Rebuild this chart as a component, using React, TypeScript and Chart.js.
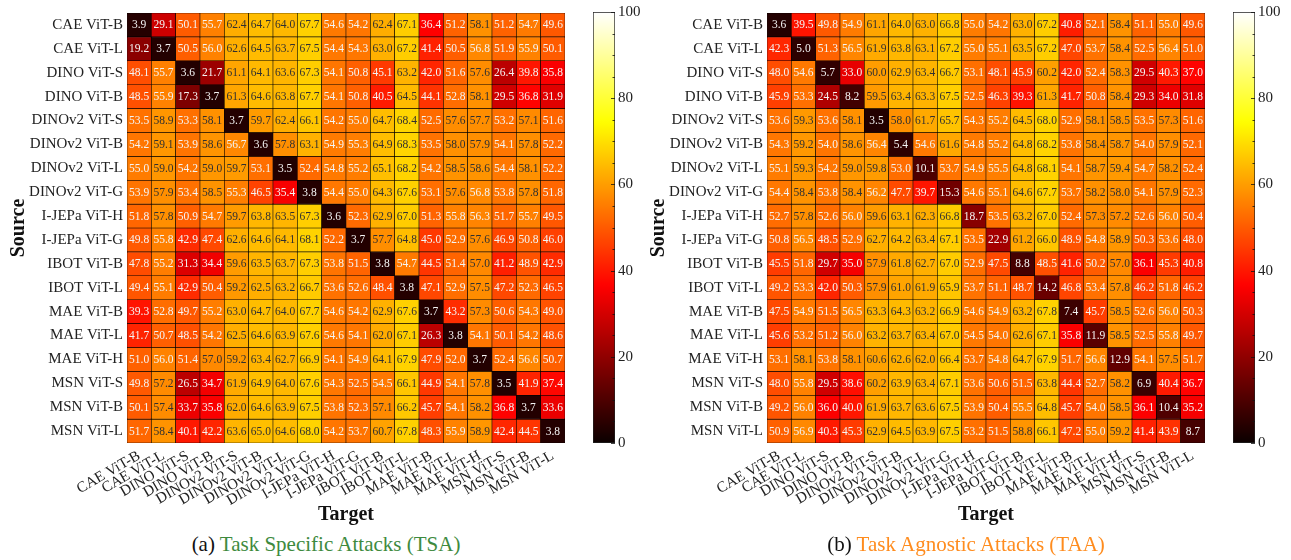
import React, { useEffect, useRef } from "react";
import { Chart, registerables } from "chart.js";

Chart.register(...registerables);

const sources = [
  "CAE ViT-B", "CAE ViT-L", "DINO ViT-S", "DINO ViT-B", "DINOv2 ViT-S", "DINOv2 ViT-B",
  "DINOv2 ViT-L", "DINOv2 ViT-G", "I-JEPa ViT-H", "I-JEPa ViT-G", "IBOT ViT-B", "IBOT ViT-L",
  "MAE ViT-B", "MAE ViT-L", "MAE ViT-H", "MSN ViT-S", "MSN ViT-B", "MSN ViT-L",
];
const targets = [...sources];

const tsaValues = [
  [3.9, 29.1, 50.1, 55.7, 62.4, 64.7, 64.0, 67.7, 54.6, 54.2, 62.4, 67.1, 36.4, 51.2, 58.1, 51.2, 54.7, 49.6],
  [19.2, 3.7, 50.5, 56.0, 62.6, 64.5, 63.7, 67.5, 54.4, 54.3, 63.0, 67.2, 41.4, 50.5, 56.8, 51.9, 55.9, 50.1],
  [48.1, 55.7, 3.6, 21.7, 61.1, 64.1, 63.6, 67.3, 54.1, 50.8, 45.1, 63.2, 42.0, 51.6, 57.6, 26.4, 39.8, 35.8],
  [48.5, 55.9, 17.3, 3.7, 61.3, 64.6, 63.8, 67.7, 54.1, 50.8, 40.5, 64.5, 44.1, 52.8, 58.1, 29.5, 36.8, 31.9],
  [53.5, 58.9, 53.3, 58.1, 3.7, 59.7, 62.4, 66.1, 54.2, 55.0, 64.7, 68.4, 52.5, 57.6, 57.7, 53.2, 57.1, 51.6],
  [54.2, 59.1, 53.9, 58.6, 56.7, 3.6, 57.8, 63.1, 54.9, 55.3, 64.9, 68.3, 53.5, 58.0, 57.9, 54.1, 57.8, 52.2],
  [55.0, 59.0, 54.2, 59.0, 59.7, 53.1, 3.5, 52.4, 54.8, 55.2, 65.1, 68.2, 54.2, 58.5, 58.6, 54.4, 58.1, 52.2],
  [53.9, 57.9, 53.4, 58.5, 55.3, 46.5, 35.4, 3.8, 54.4, 55.0, 64.3, 67.6, 53.1, 57.6, 56.8, 53.8, 57.8, 51.8],
  [51.8, 57.8, 50.9, 54.7, 59.7, 63.8, 63.5, 67.3, 3.6, 52.3, 62.9, 67.0, 51.3, 55.8, 56.3, 51.7, 55.7, 49.5],
  [49.8, 55.8, 42.9, 47.4, 62.6, 64.6, 64.1, 68.1, 52.2, 3.7, 57.7, 64.8, 45.0, 52.9, 57.6, 46.9, 50.8, 46.0],
  [47.8, 55.2, 31.3, 34.4, 59.6, 63.5, 63.7, 67.3, 53.8, 51.5, 3.8, 54.7, 44.5, 51.4, 57.0, 41.2, 48.9, 42.9],
  [49.4, 55.1, 42.9, 50.4, 59.2, 62.5, 63.2, 66.7, 53.6, 52.6, 48.4, 3.8, 47.1, 52.9, 57.5, 47.2, 52.3, 46.5],
  [39.3, 52.8, 49.7, 55.2, 63.0, 64.7, 64.0, 67.7, 54.6, 54.2, 62.9, 67.6, 3.7, 43.2, 57.3, 50.6, 54.3, 49.0],
  [41.7, 50.7, 48.5, 54.2, 62.5, 64.6, 63.9, 67.6, 54.6, 54.1, 62.0, 67.1, 26.3, 3.8, 54.1, 50.1, 54.2, 48.6],
  [51.0, 56.0, 51.4, 57.0, 59.2, 63.4, 62.7, 66.9, 54.1, 54.9, 64.1, 67.9, 47.9, 52.0, 3.7, 52.4, 56.6, 50.7],
  [49.8, 57.2, 26.5, 34.7, 61.9, 64.9, 64.0, 67.6, 54.3, 52.5, 54.5, 66.1, 44.9, 54.1, 57.8, 3.5, 41.9, 37.4],
  [50.1, 57.4, 33.7, 35.8, 62.0, 64.6, 63.9, 67.5, 53.8, 52.3, 57.1, 66.2, 45.7, 54.1, 58.2, 36.8, 3.7, 33.6],
  [51.7, 58.4, 40.1, 42.2, 63.6, 65.0, 64.6, 68.0, 54.2, 53.7, 60.7, 67.8, 48.3, 55.9, 58.9, 42.4, 44.5, 3.8],
];

const taaValues = [
  [3.6, 39.5, 49.8, 54.9, 61.1, 64.0, 63.0, 66.8, 55.0, 54.2, 63.0, 67.2, 40.8, 52.1, 58.4, 51.1, 55.0, 49.6],
  [42.3, 5.0, 51.3, 56.5, 61.9, 63.8, 63.1, 67.2, 55.0, 55.1, 63.5, 67.2, 47.0, 53.7, 58.4, 52.5, 56.4, 51.0],
  [48.0, 54.6, 5.7, 33.0, 60.0, 62.9, 63.4, 66.7, 53.1, 48.1, 45.9, 60.2, 42.0, 52.4, 58.3, 29.5, 40.3, 37.0],
  [45.9, 53.3, 24.5, 8.2, 59.5, 63.4, 63.3, 67.5, 52.5, 46.3, 39.3, 61.3, 41.7, 50.8, 58.4, 29.3, 34.0, 31.8],
  [53.6, 59.3, 53.6, 58.1, 3.5, 58.0, 61.7, 65.7, 54.3, 55.2, 64.5, 68.0, 52.9, 58.1, 58.5, 53.5, 57.3, 51.6],
  [54.3, 59.2, 54.0, 58.6, 56.4, 5.4, 54.6, 61.6, 54.8, 55.2, 64.8, 68.2, 53.8, 58.4, 58.7, 54.0, 57.9, 52.1],
  [55.1, 59.3, 54.2, 59.0, 59.8, 53.0, 10.1, 53.7, 54.9, 55.5, 64.8, 68.1, 54.1, 58.7, 59.4, 54.7, 58.2, 52.4],
  [54.4, 58.4, 53.8, 58.4, 56.2, 47.7, 39.7, 15.3, 54.6, 55.1, 64.6, 67.7, 53.7, 58.2, 58.0, 54.1, 57.9, 52.3],
  [52.7, 57.8, 52.6, 56.0, 59.6, 63.1, 62.3, 66.8, 18.7, 53.5, 63.2, 67.0, 52.4, 57.3, 57.2, 52.6, 56.0, 50.4],
  [50.8, 56.5, 48.5, 52.9, 62.7, 64.2, 63.4, 67.1, 53.5, 22.9, 61.2, 66.0, 48.9, 54.8, 58.9, 50.3, 53.6, 48.0],
  [45.5, 51.8, 29.7, 35.0, 57.9, 61.8, 62.7, 67.0, 52.9, 47.5, 8.8, 48.5, 41.6, 50.2, 57.0, 36.1, 45.3, 40.8],
  [49.2, 53.3, 42.0, 50.3, 57.9, 61.0, 61.9, 65.9, 53.7, 51.1, 48.7, 14.2, 46.8, 53.4, 57.8, 46.2, 51.8, 46.2],
  [47.5, 54.9, 51.5, 56.5, 63.3, 64.3, 63.2, 66.9, 54.6, 54.9, 63.2, 67.8, 7.4, 45.7, 58.5, 52.6, 56.0, 50.3],
  [45.6, 53.2, 51.2, 56.0, 63.2, 63.7, 63.4, 67.0, 54.5, 54.0, 62.6, 67.1, 35.8, 11.9, 58.5, 52.5, 55.8, 49.7],
  [53.1, 58.1, 53.8, 58.1, 60.6, 62.6, 62.0, 66.4, 53.7, 54.8, 64.7, 67.9, 51.7, 56.6, 12.9, 54.1, 57.5, 51.7],
  [48.0, 55.8, 29.5, 38.6, 60.2, 63.9, 63.4, 67.1, 53.6, 50.6, 51.5, 63.8, 44.4, 52.7, 58.2, 6.9, 40.4, 36.7],
  [49.2, 56.0, 36.0, 40.0, 61.9, 63.7, 63.6, 67.5, 53.9, 50.4, 55.5, 64.8, 45.7, 54.0, 58.5, 36.1, 10.4, 35.2],
  [50.9, 56.9, 40.3, 45.3, 62.9, 64.5, 63.9, 67.5, 53.2, 51.5, 58.8, 66.1, 47.2, 55.0, 59.2, 41.4, 43.9, 8.7],
];

const colorbarTicks = [0, 20, 40, 60, 80, 100];
const colorbarMinorTicks = [5, 10, 15, 25, 30, 35, 45, 50, 55, 65, 70, 75, 85, 90, 95];

const FONT = "'Liberation Serif', 'Times New Roman', serif";

function hot(v: number): number[] {
  const t = Math.max(0, Math.min(1, v / 100));
  const a = 0.365079;
  const b = 0.746032;
  const r = t < a ? 0.0416 + ((1 - 0.0416) * t) / a : 1;
  const g = t < a ? 0 : t < b ? (t - a) / (b - a) : 1;
  const bl = t < b ? 0 : (t - b) / (1 - b);
  return [r, g, bl].map((x) => Math.round(x * 255));
}
const hotCss = (v: number) => {
  const [r, g, b] = hot(v);
  return `rgb(${r},${g},${b})`;
};

function makeCellLabels(values: number[][]) {
  return {
    id: "cellLabels",
    afterDatasetsDraw(chart: any) {
      const ctx = chart.ctx;
      ctx.save();
      ctx.font = `11.5px ${FONT}`;
      ctx.textAlign = "center";
      ctx.textBaseline = "middle";
      chart.data.datasets.forEach((_: any, r: number) => {
        const meta = chart.getDatasetMeta(r);
        meta.data.forEach((bar: any, c: number) => {
          const v = values[r][c];
          const p = bar.getProps(["x", "y", "base"], true);
          ctx.fillStyle = v < 57 ? "#f4f4f4" : "#303030";
          ctx.fillText(v.toFixed(1), p.x, (p.y + p.base) / 2 + 0.5);
        });
      });
      ctx.restore();
    },
  };
}

function heatmapConfig(values: number[][]): any {
  return {
    type: "bar",
    data: {
      labels: targets,
      datasets: sources.map((s, r) => ({
        label: s,
        data: targets.map(() => [r, r + 1]),
        backgroundColor: values[r].map((v) => hotCss(v)),
        borderColor: "#000",
        borderWidth: 0.6,
        borderSkipped: false,
        barPercentage: 1,
        categoryPercentage: 1,
        grouped: false,
      })),
    },
    options: {
      animation: false,
      responsive: false,
      maintainAspectRatio: false,
      layout: { padding: { left: 0, right: 20, top: 7, bottom: 0 } },
      plugins: { legend: { display: false }, tooltip: { enabled: false } },
      scales: {
        x: {
          type: "category",
          offset: true,
          grid: { display: false, drawTicks: false },
          border: { display: false },
          ticks: {
            autoSkip: false,
            minRotation: 30,
            maxRotation: 30,
            padding: 4,
            color: "#222",
            font: { family: FONT, size: 15 },
          },
          title: {
            display: true,
            text: "Target",
            color: "#111",
            font: { family: FONT, size: 20, weight: "bold" },
            padding: { top: 0, bottom: 3 },
          },
          afterFit: (s: any) => {
            s.height = 87;
          },
        },
        y: {
          type: "linear",
          min: 0,
          max: 18,
          reverse: true,
          grid: { display: false, drawTicks: false },
          border: { display: false },
          afterBuildTicks: (s: any) => {
            s.ticks = sources.map((_, i) => ({ value: i + 0.5 }));
          },
          ticks: {
            autoSkip: false,
            padding: 4,
            color: "#222",
            font: { family: FONT, size: 15 },
            callback: (_v: any, i: number) => sources[i],
          },
          title: {
            display: true,
            text: "Source",
            color: "#111",
            font: { family: FONT, size: 20, weight: "bold" },
            padding: { top: 7, bottom: 0 },
          },
          afterFit: (s: any) => {
            s.width = 127;
          },
        },
      },
    },
    plugins: [makeCellLabels(values)],
  };
}

const colorbarTickMarks = {
  id: "cbTickMarks",
  afterDatasetsDraw(chart: any) {
    const ys = chart.scales.y;
    const area = chart.chartArea;
    const ctx = chart.ctx;
    ctx.save();
    ctx.strokeStyle = "#111";
    ctx.lineWidth = 0.8;
    const draw = (v: number, len: number) => {
      const y = Math.round(ys.getPixelForValue(v)) + 0.5;
      ctx.beginPath();
      ctx.moveTo(area.right, y);
      ctx.lineTo(area.right - len, y);
      ctx.stroke();
    };
    colorbarMinorTicks.forEach((v) => draw(v, 2.5));
    colorbarTicks.forEach((v) => draw(v, 4));
    ctx.restore();
  },
};

function colorbarConfig(): any {
  return {
    type: "bar",
    data: {
      labels: [""],
      datasets: [
        {
          data: [[0, 100]],
          backgroundColor: (c: any) => {
            const chart = c.chart;
            const ys = chart.scales && chart.scales.y;
            if (!ys || !chart.chartArea) return "#000";
            const y0 = ys.getPixelForValue(0);
            const y1 = ys.getPixelForValue(100);
            if (!isFinite(y0) || !isFinite(y1) || y0 === y1) return "#000";
            const g = chart.ctx.createLinearGradient(0, y0, 0, y1);
            for (let i = 0; i <= 100; i++) g.addColorStop(i / 100, hotCss(i));
            return g;
          },
          borderColor: "#222",
          borderWidth: 1,
          borderSkipped: false,
          barPercentage: 1,
          categoryPercentage: 1,
        },
      ],
    },
    options: {
      animation: false,
      responsive: false,
      maintainAspectRatio: false,
      layout: { padding: { left: 8, right: 0, top: 7, bottom: 87 } },
      plugins: { legend: { display: false }, tooltip: { enabled: false } },
      scales: {
        x: { display: false },
        y: {
          position: "right",
          min: 0,
          max: 100,
          grid: { display: false, drawTicks: false },
          border: { display: false },
          afterBuildTicks: (s: any) => {
            s.ticks = colorbarTicks.map((v) => ({ value: v }));
          },
          ticks: { padding: 3, color: "#222", font: { family: FONT, size: 15 } },
          afterFit: (s: any) => {
            s.width = 30;
          },
        },
      },
    },
    plugins: [colorbarTickMarks],
  };
}

const W = 585;
const H = 530;

export default function App() {
  const leftRef = useRef<HTMLCanvasElement>(null);
  const rightRef = useRef<HTMLCanvasElement>(null);
  const cbLeftRef = useRef<HTMLCanvasElement>(null);
  const cbRightRef = useRef<HTMLCanvasElement>(null);

  useEffect(() => {
    const charts = [
      new Chart(leftRef.current as HTMLCanvasElement, heatmapConfig(tsaValues)),
      new Chart(rightRef.current as HTMLCanvasElement, heatmapConfig(taaValues)),
      new Chart(cbLeftRef.current as HTMLCanvasElement, colorbarConfig()),
      new Chart(cbRightRef.current as HTMLCanvasElement, colorbarConfig()),
    ];
    return () => charts.forEach((c) => c.destroy());
  }, []);

  const abs = (left: number, top: number, w: number, h: number): React.CSSProperties => ({
    position: "absolute",
    left,
    top,
    width: w,
    height: h,
  });

  const caption = (center: number, label: string, text: string, color: string) => (
    <div
      style={{
        position: "absolute",
        left: center - 300,
        top: 532,
        width: 600,
        textAlign: "center",
        fontFamily: FONT,
        fontSize: 21,
        lineHeight: "25px",
        color: "#111",
        whiteSpace: "nowrap",
      }}
    >
      {label} <span style={{ color }}>{text}</span>
    </div>
  );

  return (
    <div style={{ position: "absolute", left: 0, top: 0, width: 1291, height: 560, overflow: "hidden", background: "#fff" }}>
      <canvas ref={leftRef} width={W} height={H} style={abs(0, 0, W, H)} />
      <canvas ref={cbLeftRef} width={60} height={H} style={abs(585, 0, 60, H)} />
      <canvas ref={rightRef} width={W} height={H} style={abs(640, 0, W, H)} />
      <canvas ref={cbRightRef} width={60} height={H} style={abs(1225, 0, 60, H)} />
      {caption(326, "(a)", "Task Specific Attacks (TSA)", "rgb(62,138,62)")}
      {caption(966, "(b)", "Task Agnostic Attacks (TAA)", "rgb(255,140,30)")}
    </div>
  );
}
